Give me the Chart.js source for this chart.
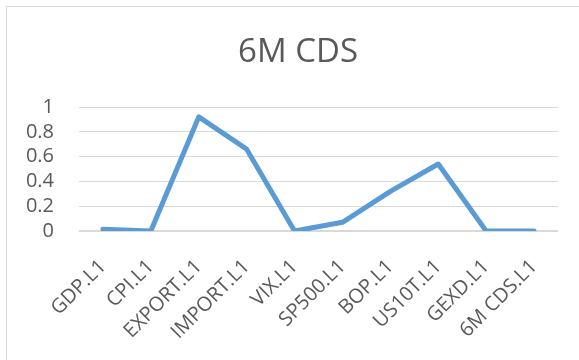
<!DOCTYPE html>
<html>
<head>
<meta charset="utf-8">
<title>6M CDS</title>
<script src="https://cdn.jsdelivr.net/npm/chart.js@4/dist/chart.umd.min.js"></script>
<style>
  html, body { margin: 0; padding: 0; background: #fff; overflow: hidden; }
  body { width: 579px; height: 360px; position: relative; }
  .frame {
    position: absolute; left: 6px; top: 6px;
    width: 600px; height: 400px;
    border: 1px solid #d9d9d9;
    background: #fff;
  }
  .chart-box { position: absolute; left: 1px; top: 1px; width: 580px; height: 353px; }
</style>
</head>
<body>
<div class="frame">
  <div class="chart-box"><canvas id="cds-chart"></canvas></div>
</div>
<script>
const chartTitle = '6M CDS';
const categories = ['GDP.L1', 'CPI.L1', 'EXPORT.L1', 'IMPORT.L1', 'VIX.L1', 'SP500.L1', 'BOP.L1', 'US10T.L1', 'GEXD.L1', '6M CDS.L1'];
const cdsValues = [0.015, 0, 0.92, 0.66, 0, 0.07, 0.32, 0.54, 0, 0];
const yTicks = [0, 0.2, 0.4, 0.6, 0.8, 1];

document.addEventListener('DOMContentLoaded', function() {
  const textColor = '#595959';
  const gridColor = '#d9d9d9';
  const fontFamily = '"Open Sans", "Liberation Sans", sans-serif';

  // title is centred on the whole frame, not on the plot area
  const frameTitle = {
    id: 'frameTitle',
    afterDraw(chart) {
      const c = chart.ctx;
      c.save();
      c.fillStyle = textColor;
      c.font = '33px ' + fontFamily;
      c.textAlign = 'center';
      c.textBaseline = 'alphabetic';
      c.fillText(chartTitle, chart.width / 2, 54);
      c.restore();
    }
  };

  const ctx = document.getElementById('cds-chart').getContext('2d');
  new Chart(ctx, {
    type: 'line',
    data: {
      labels: categories,
      datasets: [{
        label: chartTitle,
        data: cdsValues,
        borderColor: '#5b9bd5',
        borderWidth: 5,
        borderJoinStyle: 'round',
        borderCapStyle: 'round',
        pointRadius: 0,
        tension: 0,
        fill: false
      }]
    },
    plugins: [frameTitle],
    options: {
      responsive: true,
      maintainAspectRatio: false,
      animation: false,
      layout: { padding: { left: 0, right: 30, top: 99, bottom: 0 } },
      plugins: {
        legend: { display: false },
        tooltip: { enabled: false },
        title: { display: false }
      },
      scales: {
        x: {
          offset: true,
          grid: { display: false },
          border: { display: false },
          afterFit: function(scale) { scale.height = 130; },
          ticks: {
            color: textColor,
            font: { family: fontFamily, size: 20 },
            maxRotation: 45,
            minRotation: 45,
            autoSkip: false,
            padding: 16
          }
        },
        y: {
          min: 0,
          max: 1,
          afterFit: function(scale) { scale.width = 71; },
          afterBuildTicks: function(scale) {
            scale.ticks = yTicks.map(v => ({ value: v }));
          },
          grid: {
            color: gridColor,
            drawTicks: false,
            lineWidth: c => (c.tick && c.tick.value === 0 ? 2 : 1)
          },
          border: { display: false },
          ticks: {
            color: textColor,
            font: { family: fontFamily, size: 20 },
            padding: 25,
            autoSkip: false,
            callback: v => String(Math.round(v * 10) / 10)
          }
        }
      }
    }
  });
});
</script>
</body>
</html>
